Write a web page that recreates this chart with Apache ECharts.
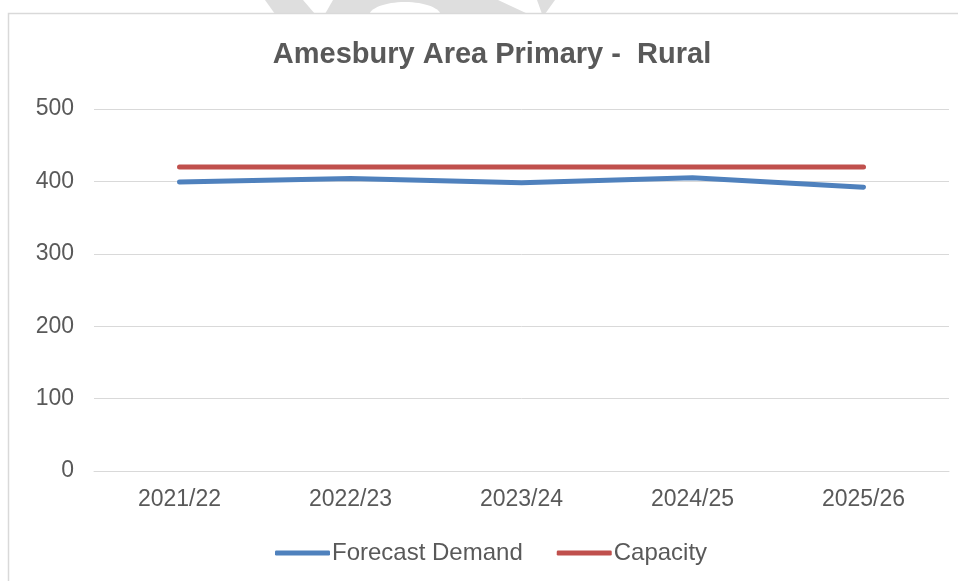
<!DOCTYPE html>
<html><head><meta charset="utf-8">
<script src="https://cdn.jsdelivr.net/npm/echarts@6/dist/echarts.min.js"></script>
<style>html,body{margin:0;padding:0;background:#fff}#c{width:958px;height:581px}</style>
</head><body><div id="c"></div>
<script>
const categories = ['2021/22','2022/23','2023/24','2024/25','2025/26'];
const forecastDemand = [399, 404, 398, 405, 392];
const capacity = [420, 420, 420, 420, 420];
const yTicks = [0, 100, 200, 300, 400, 500];

const chart = echarts.init(document.getElementById('c'));
const txt = '#595959';
const ff = 'Liberation Sans, Arial';
chart.setOption({
  animation: false,
  backgroundColor: '#fff',
  graphic: [
    {type:'polygon', z:-10, shape:{points:[[265,0],[303,0],[315,14],[275,14]]}, style:{fill:'#dedede'}},
    {type:'polygon', z:-10, shape:{points:[[333,0],[498,0],[528,14],[325,14]]}, style:{fill:'#dedede'}},
    {type:'ellipse', z:-9, shape:{cx:405,cy:16,rx:36,ry:14}, style:{fill:'#fff'}},
    {type:'polygon', z:-10, shape:{points:[[537,0],[555,0],[545,14],[542,14]]}, style:{fill:'#dedede'}},
    {type:'rect', z:-8, shape:{x:8.5,y:13.5,width:960,height:600}, style:{fill:'#fff', stroke:'#d9d9d9', lineWidth:1.5}}
  ],
  title: {
    text: 'Amesbury Area Primary -  Rural',
    left: 487, top: 35, textAlign: 'center',
    textStyle: {fontFamily: ff, fontSize: 29, fontWeight: 'bold', color: txt}
  },
  legend: {
    top: 536, left: 270,
    itemWidth: 55, itemHeight: 5, itemGap: 34,
    icon: 'roundRect',
    textStyle: {fontFamily: ff, fontSize: 24, color: txt, padding:[0,0,0,-3]},
    data: ['Forecast Demand', 'Capacity']
  },
  grid: {left: 94, right: 9, top: 109, bottom: 110, containLabel: false},
  xAxis: {
    type: 'category', data: categories, boundaryGap: true,
    axisLine: {lineStyle: {color: '#d9d9d9', width: 1}},
    axisTick: {show: false},
    axisLabel: {color: txt, fontFamily: ff, fontSize: 23, margin: 17}
  },
  yAxis: {
    type: 'value', min: yTicks[0], max: yTicks[yTicks.length-1], interval: 100,
    axisLine: {show: false}, axisTick: {show: false},
    splitLine: {lineStyle: {color: '#d9d9d9', width: 1}},
    axisLabel: {color: txt, fontFamily: ff, fontSize: 23, margin: 20}
  },
  series: [
    {name: 'Forecast Demand', type: 'line', data: forecastDemand, symbol: 'none',
     itemStyle: {color: '#4F81BD'},
     lineStyle: {color: '#4F81BD', width: 5, cap: 'round', join: 'round'}},
    {name: 'Capacity', type: 'line', data: capacity, symbol: 'none',
     itemStyle: {color: '#C0504D'},
     lineStyle: {color: '#C0504D', width: 5, cap: 'round', join: 'round'}}
  ]
});
</script></body></html>
